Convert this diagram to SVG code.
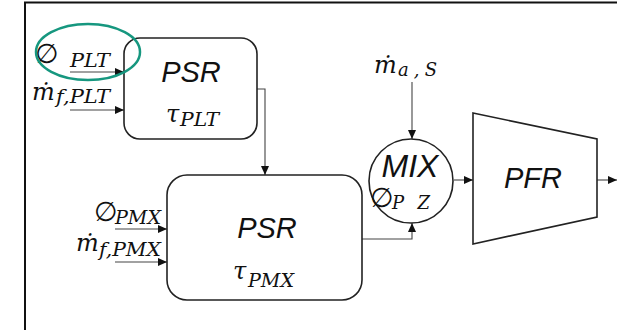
<svg xmlns="http://www.w3.org/2000/svg" width="617" height="330" viewBox="0 0 617 330">
<defs>
<marker id="ah" markerWidth="10" markerHeight="8" refX="9" refY="4" orient="auto" markerUnits="userSpaceOnUse">
<path d="M0,0 L9,4 L0,8 Z" fill="#111"/>
</marker>
<style>
.box{fill:#fff;stroke:#222;stroke-width:1.6}
.conn{fill:none;stroke:#444;stroke-width:1.1}
.big{font-family:"Liberation Sans",Arial,sans-serif;font-style:italic;font-size:29px;fill:#111}
.sym{font-family:"DejaVu Sans",sans-serif;font-size:27px;fill:#111}
.m{font-family:"DejaVu Serif","Liberation Serif",serif;font-style:italic;font-size:24px;fill:#111}
.sub{font-family:"DejaVu Serif","Liberation Serif",serif;font-style:italic;font-size:18px;fill:#111}
</style>
</defs>
<rect width="617" height="330" fill="#fff"/>
<path d="M25,330 V2.5 H617" fill="none" stroke="#111" stroke-width="2"/>

<g id="connectors">
<line class="conn" x1="70" y1="72" x2="124" y2="72" marker-end="url(#ah)"/>
<line class="conn" x1="70" y1="110" x2="124" y2="110" marker-end="url(#ah)"/>
<polyline class="conn" points="257,89 265,89 265,175" marker-end="url(#ah)"/>
<line class="conn" x1="115" y1="229" x2="167" y2="229" marker-end="url(#ah)"/>
<line class="conn" x1="115" y1="262" x2="167" y2="262" marker-end="url(#ah)"/>
<polyline class="conn" points="362,239 412,239 412,223" marker-end="url(#ah)"/>
<line class="conn" x1="412" y1="82" x2="412" y2="139" marker-end="url(#ah)"/>
<line class="conn" x1="454" y1="180" x2="473" y2="180" marker-end="url(#ah)"/>
<line class="conn" x1="597" y1="180" x2="617" y2="180" marker-end="url(#ah)"/>
</g>

<g id="input-phi-plt">
<text class="sym" x="35" y="63">∅</text>
<text class="sub" x="70" y="67" textLength="40" lengthAdjust="spacingAndGlyphs">PLT</text>
</g>
<g id="input-mf-plt">
<text class="m" x="32" y="100">ṁ</text>
<text class="sub" x="56" y="103" textLength="54" lengthAdjust="spacingAndGlyphs">f,PLT</text>
</g>

<g id="psr-plt">
<rect class="box" x="124" y="38" width="133" height="101" rx="16"/>
<text class="big" x="191" y="82" text-anchor="middle">PSR</text>
<text class="m" x="166" y="122">τ</text>
<text class="sub" x="180" y="126" textLength="39" lengthAdjust="spacingAndGlyphs">PLT</text>
</g>

<ellipse id="highlight" cx="88" cy="52" rx="52" ry="28" fill="none" stroke="#16977f" stroke-width="2.5"/>

<g id="input-phi-pmx">
<text class="sym" x="94" y="221">∅</text>
<text class="sub" x="115" y="224" textLength="46" lengthAdjust="spacingAndGlyphs">PMX</text>
</g>
<g id="input-mf-pmx">
<text class="m" x="76" y="251">ṁ</text>
<text class="sub" x="99" y="256" textLength="62" lengthAdjust="spacingAndGlyphs">f,PMX</text>
</g>

<g id="psr-pmx">
<rect class="box" x="167" y="175" width="195" height="125" rx="20"/>
<text class="big" x="267" y="238" text-anchor="middle">PSR</text>
<text class="m" x="233" y="279">τ</text>
<text class="sub" x="248" y="287" textLength="46" lengthAdjust="spacingAndGlyphs">PMX</text>
</g>

<g id="input-ma-s">
<text class="m" x="374" y="73">ṁ</text>
<text class="sub" x="398" y="76" textLength="39" lengthAdjust="spacing">a,S</text>
</g>

<g id="mix">
<circle class="box" cx="411" cy="181" r="42"/>
<text class="big" x="410" y="177" text-anchor="middle" style="font-size:32px">MIX</text>
<text class="sym" x="370" y="207">∅</text>
<text class="sub" x="392" y="209" textLength="38" lengthAdjust="spacing">PZ</text>
</g>

<g id="pfr">
<polygon class="box" points="473,113 597,139 597,217 473,244"/>
<text class="big" x="533" y="188" text-anchor="middle">PFR</text>
</g>
</svg>
